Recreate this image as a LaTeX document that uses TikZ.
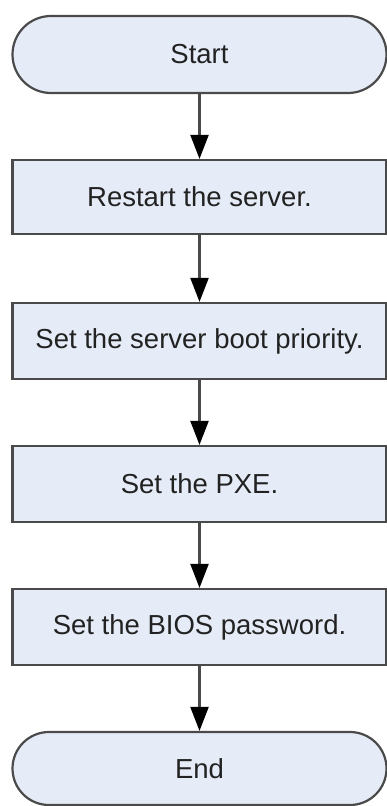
\documentclass[tikz,border=0pt]{standalone}
\usepackage{fontspec}
\setmainfont{Liberation Sans}
\usetikzlibrary{arrows.meta,shapes.misc}
\definecolor{boxfill}{HTML}{E6ECF7}
\definecolor{boxline}{HTML}{4A4A4A}
\definecolor{txt}{HTML}{222222}
\begin{document}
\begin{tikzpicture}[x=1pt,y=-1pt,
  stepbox/.style={draw=boxline,line width=2.2pt,fill=boxfill,minimum width=374pt,
    inner sep=0pt,text=txt,font=\fontsize{27.5}{32}\selectfont},
  termbox/.style={stepbox,rounded rectangle},
  flow/.style={draw=boxline,line width=2.2pt,-{Triangle[width=18pt,length=24pt,fill=black,color=black]}}]
\useasboundingbox (0,0) rectangle (387,806);
\node[termbox,minimum height=77pt] (start) at (199.5,54.5) {Start};
\node[stepbox,minimum height=74pt] (s1) at (199.5,197) {Restart the server.};
\node[stepbox,minimum height=76pt] (s2) at (199.5,341) {Set the server boot priority.};
\node[stepbox,minimum height=76pt] (s3) at (199.5,484) {Set the PXE.};
\node[stepbox,minimum height=76pt] (s4) at (199.5,627) {Set the BIOS password.};
\node[termbox,minimum height=73pt] (end) at (199.5,768.5) {End};
\foreach \a/\b in {start/s1,s1/s2,s2/s3,s3/s4,s4/end}
  \draw[flow] (\a.south) -- (\b.north);
\end{tikzpicture}
\end{document}
